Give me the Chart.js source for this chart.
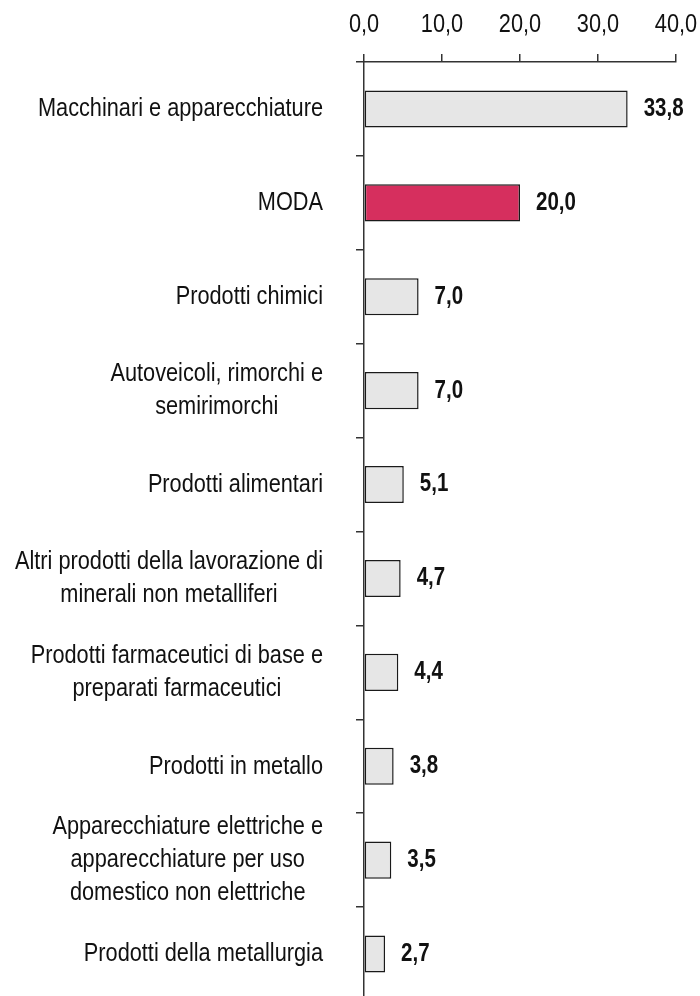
<!DOCTYPE html>
<html>
<head>
<meta charset="utf-8">
<script src="https://cdn.jsdelivr.net/npm/chart.js@4.4.1/dist/chart.umd.min.js"></script>
<style>
html, body { margin: 0; padding: 0; background: #fff; overflow: hidden; }
#wrap { position: relative; width: 700px; height: 1001px; }
</style>
</head>
<body>
<div id="wrap"><canvas id="barChart"></canvas></div>
<script>
var categories = [
    "Macchinari e apparecchiature",
    "MODA",
    "Prodotti chimici",
    ["Autoveicoli, rimorchi e", "semirimorchi"],
    "Prodotti alimentari",
    ["Altri prodotti della lavorazione di", "minerali non metalliferi"],
    ["Prodotti farmaceutici di base e", "preparati farmaceutici"],
    "Prodotti in metallo",
    ["Apparecchiature elettriche e", "apparecchiature per uso", "domestico non elettriche"],
    "Prodotti della metallurgia"
];
var values = [33.8, 20.0, 7.0, 7.0, 5.1, 4.7, 4.4, 3.8, 3.5, 2.7];
var highlight = "MODA";
var xTicks = [0, 10, 20, 30, 40];

// no narrow font installed: squeeze Liberation Sans horizontally
var FONT = "'Liberation Sans', Arial, sans-serif";
var SQ = 0.82;

function fmt(v) {
    return v.toFixed(1).replace(".", ",");
}

function narrowText(ctx, txt, x, y, align) {
    var w = ctx.measureText(txt).width * SQ;
    var left = align === "center" ? x - w / 2 : (align === "right" ? x - w : x);
    ctx.save();
    ctx.translate(left, y);
    ctx.scale(SQ, 1);
    ctx.textAlign = "left";
    ctx.fillText(txt, 0, 0);
    ctx.restore();
}

var fills = categories.map(function(c) {
    return c === highlight ? "#d62f5e" : "#e6e6e6";
});

var textLayer = {
    id: "textLayer",
    afterDraw: function(chart) {
        var ctx = chart.ctx;
        var x = chart.scales.x;
        var y = chart.scales.y;
        ctx.save();
        ctx.fillStyle = "#111";
        ctx.textBaseline = "middle";

        // x tick labels
        ctx.font = "26.5px " + FONT;
        xTicks.forEach(function(v) {
            narrowText(ctx, fmt(v), x.getPixelForValue(v), 25, "center");
        });

        // category labels: block right aligned, lines centred in the block
        var right = chart.chartArea.left - 41;
        var lh = 33;
        categories.forEach(function(c, i) {
            var lines = Array.isArray(c) ? c : [c];
            var w = Math.max.apply(null, lines.map(function(l) { return ctx.measureText(l).width; })) * SQ;
            var cx = right - w / 2;
            var cy = y.getPixelForValue(i);
            var y0 = cy - (lines.length - 1) * lh / 2;
            lines.forEach(function(l, k) {
                narrowText(ctx, l, cx, y0 + k * lh, "center");
            });
        });

        // value labels
        ctx.font = "bold 25px " + FONT;
        chart.getDatasetMeta(0).data.forEach(function(bar, i) {
            narrowText(ctx, fmt(values[i]), bar.x + 16, bar.y, "left");
        });
        ctx.restore();
    }
};

var ctx1 = document.getElementById("barChart").getContext("2d");
new Chart(ctx1, {
    type: "bar",
    data: {
        labels: categories,
        datasets: [{
            data: values,
            backgroundColor: fills,
            borderColor: "#1a1a1a",
            borderWidth: 1.5,
            borderSkipped: false,
            categoryPercentage: 1,
            barPercentage: 0.395
        }]
    },
    options: {
        indexAxis: "y",
        responsive: true,
        maintainAspectRatio: false,
        animation: false,
        layout: { padding: { left: 0, right: 24, top: 0, bottom: 0 } },
        plugins: {
            legend: { display: false },
            tooltip: { enabled: false }
        },
        scales: {
            x: {
                position: "top",
                min: 0,
                max: 40,
                afterBuildTicks: function(scale) {
                    scale.ticks = xTicks.map(function(v) { return { value: v }; });
                },
                afterFit: function(scale) {
                    scale.height = 62;
                    scale.paddingLeft = 0;
                    scale.paddingRight = 0;
                },
                ticks: { display: false },
                grid: {
                    drawOnChartArea: false,
                    tickLength: 8,
                    color: "#333",
                    lineWidth: 1.5
                },
                border: { color: "#333", width: 1.5 }
            },
            y: {
                afterFit: function(scale) { scale.width = 364; },
                ticks: { display: false },
                grid: {
                    offset: true,
                    drawOnChartArea: false,
                    tickLength: 8,
                    color: "#333",
                    lineWidth: 1.5
                },
                border: { color: "#333", width: 1.5 }
            }
        }
    },
    plugins: [textLayer]
});
</script>
</body>
</html>
